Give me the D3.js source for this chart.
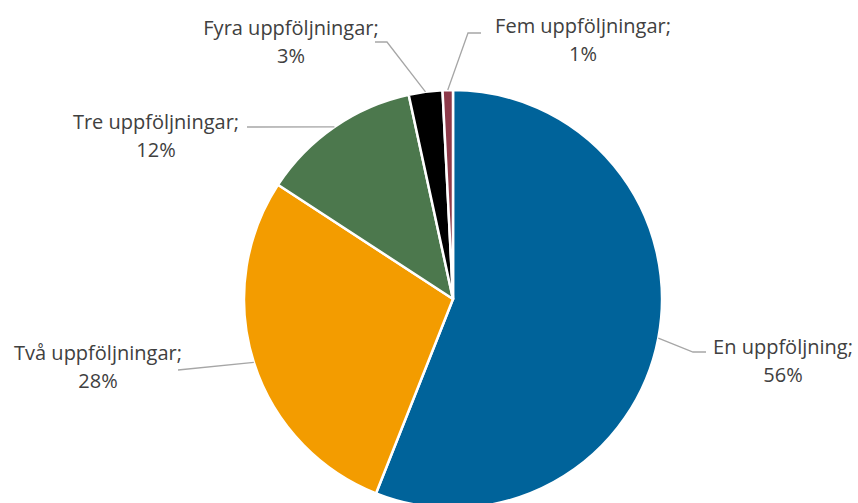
<!DOCTYPE html>
<html>
<head>
<meta charset="utf-8">
<script src="https://cdn.jsdelivr.net/npm/d3@7"></script>
<style>
  body { margin: 0; background: #fff; }
  svg text { font-family: "Open Sans", "Noto Sans", sans-serif; fill: #404040; }
</style>
</head>
<body>
<div id="chart"></div>
<script>
// data (share in percent)
var categories = ["En uppföljning", "Två uppföljningar", "Tre uppföljningar", "Fyra uppföljningar", "Fem uppföljningar"];
var values = [56.0, 28.2, 12.4, 2.6, 0.8];
var percentLabels = ["56%", "28%", "12%", "3%", "1%"];
var colors = ["#00639a", "#f39c00", "#4c784d", "#000000", "#8e3a4a"];

// label placement: text centre/baseline and leader line bend
var labelPos = [
  { x: 783, y: 354, bend: [[693, 352], [706, 352]] },
  { x: 98,  y: 360, bend: [[178, 370]] },
  { x: 156, y: 129, bend: [[247, 127]] },
  { x: 291, y: 35,  bend: [[387, 42], [375, 42]] },
  { x: 583, y: 33,  bend: [[468, 33], [481, 33]] }
];

var width = 858, height = 503;
var cx = 453, cy = 299, radius = 209;

var svg = d3.select("#chart").append("svg")
    .attr("width", width)
    .attr("height", height);

var pie = d3.pie().sort(null).value(function(d) { return d; });
var arcs = pie(values);

var arc = d3.arc().innerRadius(0).outerRadius(radius);
var edge = d3.arc().innerRadius(radius).outerRadius(radius);

var g = svg.append("g")
    .attr("transform", "translate(" + cx + "," + cy + ")");

g.selectAll("path.slice")
    .data(arcs)
    .enter().append("path")
    .attr("class", "slice")
    .attr("d", arc)
    .attr("fill", function(d, i) { return colors[i]; })
    .attr("stroke", "#fff")
    .attr("stroke-width", 2.5)
    .attr("stroke-linejoin", "round");

// leader lines
var line = d3.line();
svg.selectAll("path.leader")
    .data(arcs)
    .enter().append("path")
    .attr("class", "leader")
    .attr("fill", "none")
    .attr("stroke", "#a6a6a6")
    .attr("stroke-width", 1.3)
    .attr("d", function(d, i) {
      var c = edge.centroid(d);
      var pts = [[cx + c[0], cy + c[1]]].concat(labelPos[i].bend);
      return line(pts);
    });

// labels
var labels = svg.selectAll("text.lbl")
    .data(arcs)
    .enter().append("text")
    .attr("class", "lbl")
    .attr("text-anchor", "middle")
    .style("font-size", "20px");

labels.append("tspan")
    .attr("x", function(d, i) { return labelPos[i].x; })
    .attr("y", function(d, i) { return labelPos[i].y; })
    .text(function(d, i) { return categories[i] + ";"; });

labels.append("tspan")
    .attr("x", function(d, i) { return labelPos[i].x; })
    .attr("y", function(d, i) { return labelPos[i].y + 28; })
    .text(function(d, i) { return percentLabels[i]; });
</script>
</body>
</html>
